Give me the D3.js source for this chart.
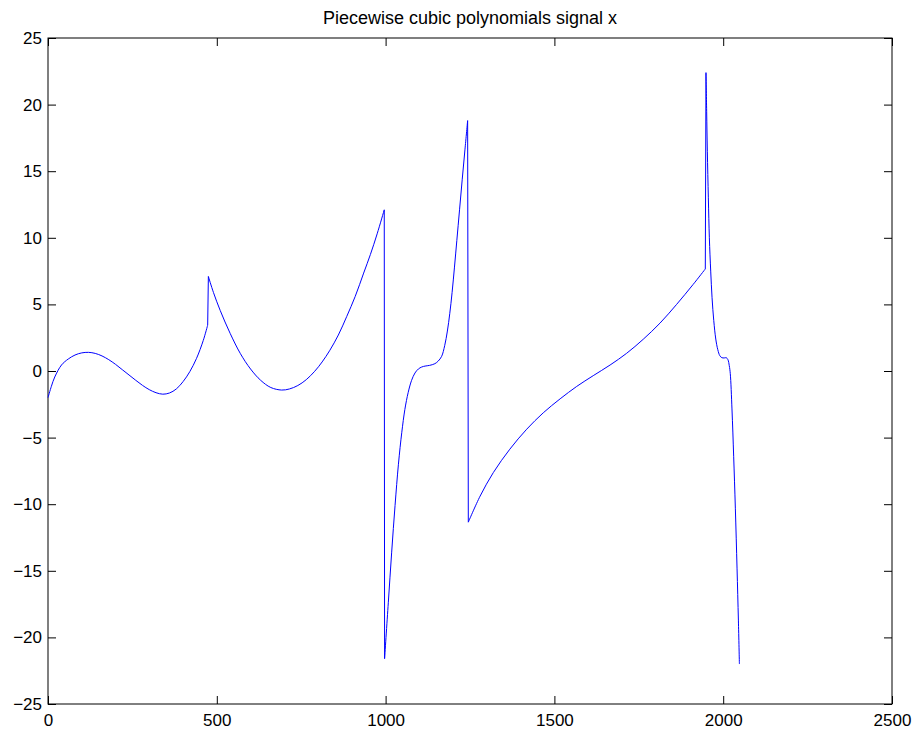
<!DOCTYPE html>
<html>
<head>
<meta charset="utf-8">
<script src="https://cdn.jsdelivr.net/npm/d3@7"></script>
<style>
  body { margin: 0; background: #fff; }
  svg { font-family: "Liberation Sans", Arial, Helvetica, sans-serif; }
</style>
</head>
<body>
<div id="chart"></div>
<script>
let titleText = "Piecewise cubic polynomials signal x";
let xTicks = [0, 500, 1000, 1500, 2000, 2500];
let yTicks = [-25, -20, -15, -10, -5, 0, 5, 10, 15, 20, 25];

// signal pieces (sample index, value)
let piece1X = [0, 10, 20, 40, 60, 80, 100, 120, 140, 160, 180, 200, 220, 240, 260, 280, 300, 320, 340, 360, 380, 400, 420, 440, 460, 473];
let piece1Y = [-2.0, -1.15, -0.45, 0.45, 0.9, 1.2, 1.36, 1.40, 1.32, 1.13, 0.85, 0.5, 0.1, -0.3, -0.7, -1.08, -1.4, -1.63, -1.74, -1.65, -1.35, -0.8, -0.05, 0.95, 2.3, 3.45];

let piece2X = [475, 490, 510, 540, 570, 600, 630, 660, 692, 715, 740, 765, 790, 812, 835, 860, 885, 910, 935, 955, 975, 996];
let piece2Y = [7.1, 5.9, 4.55, 2.8, 1.3, 0.15, -0.7, -1.24, -1.43, -1.35, -1.09, -0.65, -0.02, 0.68, 1.56, 2.7, 4.1, 5.6, 7.35, 8.75, 10.3, 12.1];

let piece3X = [997, 1008, 1018, 1028, 1038, 1048, 1057, 1067, 1077, 1087, 1097, 1107, 1117, 1130, 1146, 1156, 1166, 1175, 1183, 1190, 1197, 1204, 1211, 1219, 1227, 1235, 1243];
let piece3Y = [-21.6, -17.4, -13.6, -10.1, -7.0, -4.6, -2.9, -1.6, -0.7, -0.15, 0.15, 0.3, 0.37, 0.42, 0.55, 0.75, 1.1, 1.9, 3.0, 4.3, 5.9, 7.8, 9.8, 12.1, 14.4, 16.6, 18.8];

let piece4X = [1245, 1280, 1319, 1368, 1418, 1467, 1517, 1566, 1615, 1665, 1714, 1763, 1813, 1862, 1911, 1947];
let piece4Y = [-11.35, -9.39, -7.63, -5.87, -4.37, -3.14, -2.09, -1.16, -0.35, 0.45, 1.33, 2.38, 3.6, 5.0, 6.5, 7.66];

let piece5X = [1949, 1951, 1953, 1956, 1959, 1963, 1967, 1972, 1978, 1984, 1990, 1996, 2003, 2009, 2014, 2018, 2021, 2026, 2031, 2036, 2041, 2045, 2048];
let piece5Y = [22.4, 19.5, 16.5, 13.0, 10.0, 7.5, 5.5, 3.8, 2.4, 1.6, 1.15, 1.0, 0.98, 1.0, 0.85, 0.4, -0.2, -2.85, -6.4, -10.3, -14.8, -18.7, -22.0];

let pieces = [
    [piece1X, piece1Y],
    [piece2X, piece2Y],
    [piece3X, piece3Y],
    [piece4X, piece4Y],
    [piece5X, piece5Y]
].map(p => p[0].map((x, i) => ({x: x, y: p[1][i]})));

let margin = {top: 38, right: 26, bottom: 32, left: 48},
    width = 918 - margin.left - margin.right,
    height = 736 - margin.top - margin.bottom;

let svg = d3.select("#chart").append("svg")
    .attr("width", 918)
    .attr("height", 736)
  .append("g")
    .attr("transform", "translate(" + margin.left + "," + margin.top + ")");

let xScale = d3.scaleLinear().domain([0, 2500]).range([0, width]);
let yScale = d3.scaleLinear().domain([-25, 25]).range([height, 0]);

let fmt = d3.format("");

// bottom + left axes with labels, ticks pointing inward
let xAxis = d3.axisBottom(xScale).tickValues(xTicks).tickFormat(fmt).tickSize(-8).tickPadding(10);
let yAxis = d3.axisLeft(yScale).tickValues(yTicks).tickFormat(fmt).tickSize(-8).tickPadding(6);

svg.append("g")
    .attr("transform", "translate(0," + height + ")")
    .call(xAxis);
svg.append("g")
    .call(yAxis);

// top + right ticks only
svg.append("g")
    .call(d3.axisTop(xScale).tickValues(xTicks).tickFormat("").tickSize(-8));
svg.append("g")
    .attr("transform", "translate(" + width + ",0)")
    .call(d3.axisRight(yScale).tickValues(yTicks).tickFormat("").tickSize(-8));

svg.selectAll(".domain").remove();
svg.selectAll(".tick line").attr("stroke", "#000").attr("stroke-width", 1);
svg.selectAll(".tick text")
    .attr("fill", "#000")
    .style("font-size", "17px");

svg.append("rect")
    .attr("x", 0)
    .attr("y", 0)
    .attr("width", width)
    .attr("height", height)
    .attr("fill", "none")
    .attr("stroke", "#000")
    .attr("stroke-width", 1);

let smooth = d3.line()
    .x(d => xScale(d.x))
    .y(d => yScale(d.y))
    .curve(d3.curveCatmullRom.alpha(0.5));

let straight = d3.line()
    .x(d => xScale(d.x))
    .y(d => yScale(d.y));

svg.selectAll(".piece")
    .data(pieces)
    .enter().append("path")
    .attr("class", "piece")
    .attr("d", smooth)
    .attr("fill", "none")
    .attr("stroke", "#0000ff")
    .attr("stroke-width", 1);

// jumps between pieces
let jumps = pieces.slice(1).map((p, i) => [pieces[i][pieces[i].length - 1], p[0]]);
svg.selectAll(".jump")
    .data(jumps)
    .enter().append("path")
    .attr("class", "jump")
    .attr("d", straight)
    .attr("fill", "none")
    .attr("stroke", "#0000ff")
    .attr("stroke-width", 1);

svg.append("text")
    .attr("x", width / 2)
    .attr("y", -14)
    .style("text-anchor", "middle")
    .style("font-size", "18px")
    .text(titleText);
</script>
</body>
</html>
